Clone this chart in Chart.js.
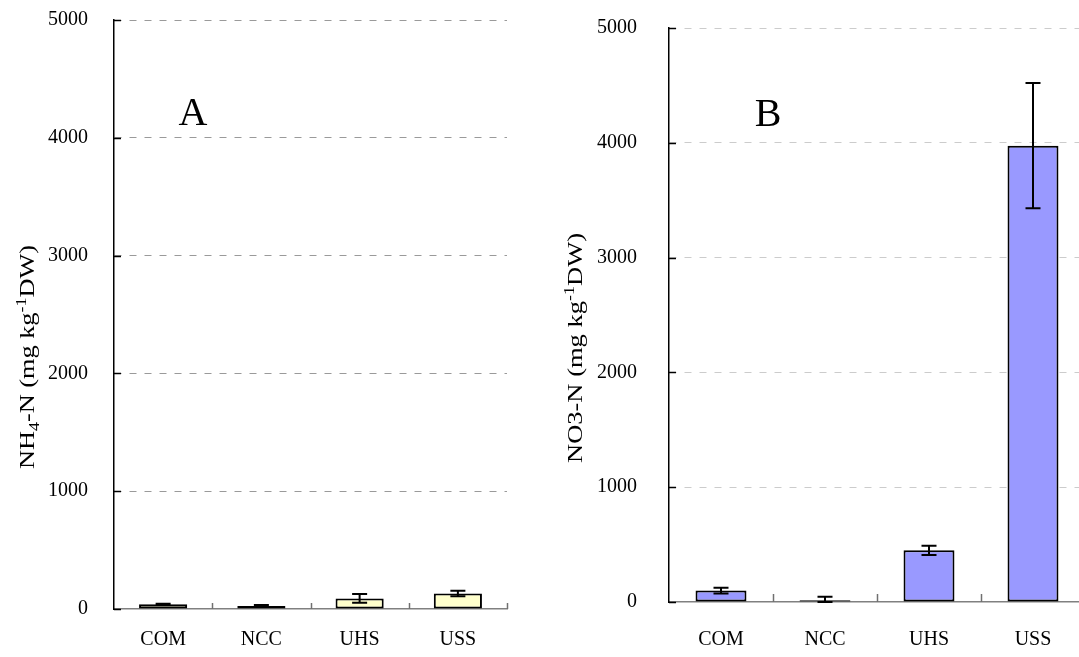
<!DOCTYPE html>
<html>
<head>
<meta charset="utf-8">
<script src="https://cdn.jsdelivr.net/npm/chart.js@4.4.0/dist/chart.umd.min.js"></script>
<style>
  html, body { margin: 0; padding: 0; overflow: hidden; background: #fff; width: 1079px; height: 657px; }
  #wrapA { position: absolute; left: 0; top: 0; width: 520px; height: 657px; }
  #wrapB { position: absolute; left: 540px; top: 0; width: 560px; height: 657px; }
  canvas { display: block; }
</style>
</head>
<body>
<div id="wrapA"><canvas id="chartA" width="520" height="657"></canvas></div>
<div id="wrapB"><canvas id="chartB" width="560" height="657"></canvas></div>
<script>
// Sampling sites
const categories = ['COM', 'NCC', 'UHS', 'USS'];

// Ammonium nitrogen (mg kg-1 DW): means and standard errors
const nh4Values = [40, 25, 90, 132];
const nh4Errors = [5, 8, 37, 23];

// Nitrate nitrogen (mg kg-1 DW): means and standard errors
const no3Values = [100, 15, 450, 3975];
const no3Errors = [25, 30, 40, 545];

// Value axis ticks shared by both panels
const yTickValues = [0, 1000, 2000, 3000, 4000, 5000];

// Axis titles as text runs (normal / subscript / superscript)
const nh4TitleRuns = [['NH', 'n'], ['4', 'sub'], ['-N (mg kg', 'n'], ['-1', 'sup'], ['DW)', 'n']];
const no3TitleRuns = [['NO3-N (mg kg', 'n'], ['-1', 'sup'], ['DW)', 'n']];

const SERIF = '"Liberation Serif", "Times New Roman", serif';
Chart.defaults.font.family = SERIF;
Chart.defaults.color = '#000';

// Error bars drawn from each dataset's error array
const errorBarPlugin = {
  id: 'errorBars',
  afterDatasetsDraw(chart, args, opts) {
    const { ctx } = chart;
    const yScale = chart.scales.y;
    const meta = chart.getDatasetMeta(0);
    const values = chart.data.datasets[0].data;
    ctx.save();
    ctx.strokeStyle = '#000';
    ctx.lineWidth = 2;
    meta.data.forEach((bar, i) => {
      const err = opts.errors[i];
      const yHi = yScale.getPixelForValue(values[i] + err);
      const yLo = yScale.getPixelForValue(Math.max(values[i] - err, 0));
      const half = opts.capWidth / 2;
      ctx.beginPath();
      ctx.moveTo(bar.x, yHi); ctx.lineTo(bar.x, yLo);
      ctx.moveTo(bar.x - half, yHi); ctx.lineTo(bar.x + half, yHi);
      ctx.moveTo(bar.x - half, yLo); ctx.lineTo(bar.x + half, yLo);
      ctx.stroke();
    });
    ctx.restore();
  }
};

// Inward tick marks on both axes
const innerTicksPlugin = {
  id: 'innerTicks',
  afterDraw(chart, args, opts) {
    const { ctx, chartArea } = chart;
    const yScale = chart.scales.y;
    ctx.save();
    ctx.lineWidth = 1.5;
    ctx.strokeStyle = '#000';
    yScale.ticks.forEach((t) => {
      const py = Math.round(yScale.getPixelForValue(t.value)) + 0.5;
      ctx.beginPath();
      ctx.moveTo(chartArea.left, py);
      ctx.lineTo(chartArea.left + opts.yLen, py);
      ctx.stroke();
    });
    ctx.strokeStyle = opts.xColor;
    const n = chart.data.labels.length;
    const step = (chartArea.right - chartArea.left) / n;
    for (let i = 1; i <= n; i++) {
      const px = Math.round(chartArea.left + i * step) + 0.5;
      ctx.beginPath();
      ctx.moveTo(px, chartArea.bottom);
      ctx.lineTo(px, chartArea.bottom - opts.xLen);
      ctx.stroke();
    }
    ctx.restore();
  }
};

// Rotated axis title with sub/superscripts, plus the panel letter
const annotationPlugin = {
  id: 'annotations',
  afterDraw(chart, args, opts) {
    const { ctx } = chart;
    const size = opts.titleSize;
    const small = Math.round(size * 0.68);
    const fontFor = (kind) => `${kind === 'n' ? size : small}px ${SERIF}`;
    ctx.save();
    ctx.fillStyle = '#000';
    let total = 0;
    opts.runs.forEach(([txt, kind]) => { ctx.font = fontFor(kind); total += ctx.measureText(txt).width; });
    const stretch = opts.titleLength / total;
    ctx.translate(opts.titleX, opts.titleY);
    ctx.rotate(-Math.PI / 2);
    ctx.scale(stretch, 1);
    ctx.textBaseline = 'alphabetic';
    ctx.textAlign = 'left';
    let x = -total / 2;
    const base = size * 0.33;
    opts.runs.forEach(([txt, kind]) => {
      ctx.font = fontFor(kind);
      const dy = kind === 'sub' ? size * 0.2 : kind === 'sup' ? -size * 0.38 : 0;
      ctx.fillText(txt, x, base + dy);
      x += ctx.measureText(txt).width;
    });
    ctx.restore();

    ctx.save();
    ctx.fillStyle = '#000';
    ctx.font = `${opts.letterSize}px ${SERIF}`;
    ctx.textAlign = 'center';
    ctx.textBaseline = 'alphabetic';
    ctx.fillText(opts.letter, opts.letterX, opts.letterY);
    ctx.restore();
  }
};

function makeChart(canvasId, cfg) {
  return new Chart(document.getElementById(canvasId), {
    type: 'bar',
    data: {
      labels: categories,
      datasets: [{
        data: cfg.values,
        backgroundColor: cfg.fill,
        borderColor: '#000',
        borderWidth: 2,
        borderSkipped: false,
        barPercentage: 0.49,
        categoryPercentage: 1.0
      }]
    },
    options: {
      responsive: false,
      animation: false,
      devicePixelRatio: 1,
      layout: { padding: cfg.padding },
      plugins: {
        legend: { display: false },
        tooltip: { enabled: false },
        errorBars: { errors: cfg.errors, capWidth: 15 },
        innerTicks: { yLen: 7, xLen: cfg.xTickLen, xColor: '#707070' },
        annotations: cfg.annotations
      },
      scales: {
        x: {
          grid: { display: false, drawTicks: false },
          border: { display: true, color: '#808080', width: 1.5 },
          ticks: { font: { size: 20 }, color: '#000', padding: cfg.xPad },
          afterFit: (s) => { s.height = cfg.xAxisHeight; }
        },
        y: {
          min: 0,
          max: 5000,
          afterBuildTicks: (s) => { s.ticks = yTickValues.map((v) => ({ value: v })); },
          grid: {
            drawTicks: true,
            tickLength: cfg.yGap,
            tickColor: 'rgba(0,0,0,0)',
            color: (c) => (c.tick && c.tick.value === 0 ? 'rgba(0,0,0,0)' : cfg.gridColor),
            lineWidth: 1
          },
          border: { display: true, color: '#000', width: 1.5, dash: [7, 8] },
          ticks: { font: { size: 20 }, color: '#000', padding: 0, callback: (v) => String(v) },
          afterFit: (s) => { s.width = cfg.yAxisWidth; }
        }
      }
    },
    plugins: [errorBarPlugin, innerTicksPlugin, annotationPlugin]
  });
}

makeChart('chartA', {
  values: nh4Values,
  errors: nh4Errors,
  fill: '#FFFFCC',
  gridColor: '#9a9a9a',
  padding: { top: 20, right: 13, left: 0, bottom: 0 },
  yAxisWidth: 114,
  xAxisHeight: 48,
  xPad: 19,
  yGap: 26,
  xTickLen: 6,
  annotations: { runs: nh4TitleRuns, titleSize: 22, titleLength: 224, titleX: 27, titleY: 357, letter: 'A', letterSize: 40, letterX: 193, letterY: 125 }
});

makeChart('chartB', {
  values: no3Values,
  errors: no3Errors,
  fill: '#9999FF',
  gridColor: '#cccccc',
  padding: { top: 28, right: 15, left: 0, bottom: 0 },
  yAxisWidth: 129,
  xAxisHeight: 55,
  xPad: 26,
  yGap: 32,
  xTickLen: 8,
  annotations: { runs: no3TitleRuns, titleSize: 22, titleLength: 230, titleX: 35, titleY: 348, letter: 'B', letterSize: 40, letterX: 228, letterY: 126 }
});
</script>
</body>
</html>
